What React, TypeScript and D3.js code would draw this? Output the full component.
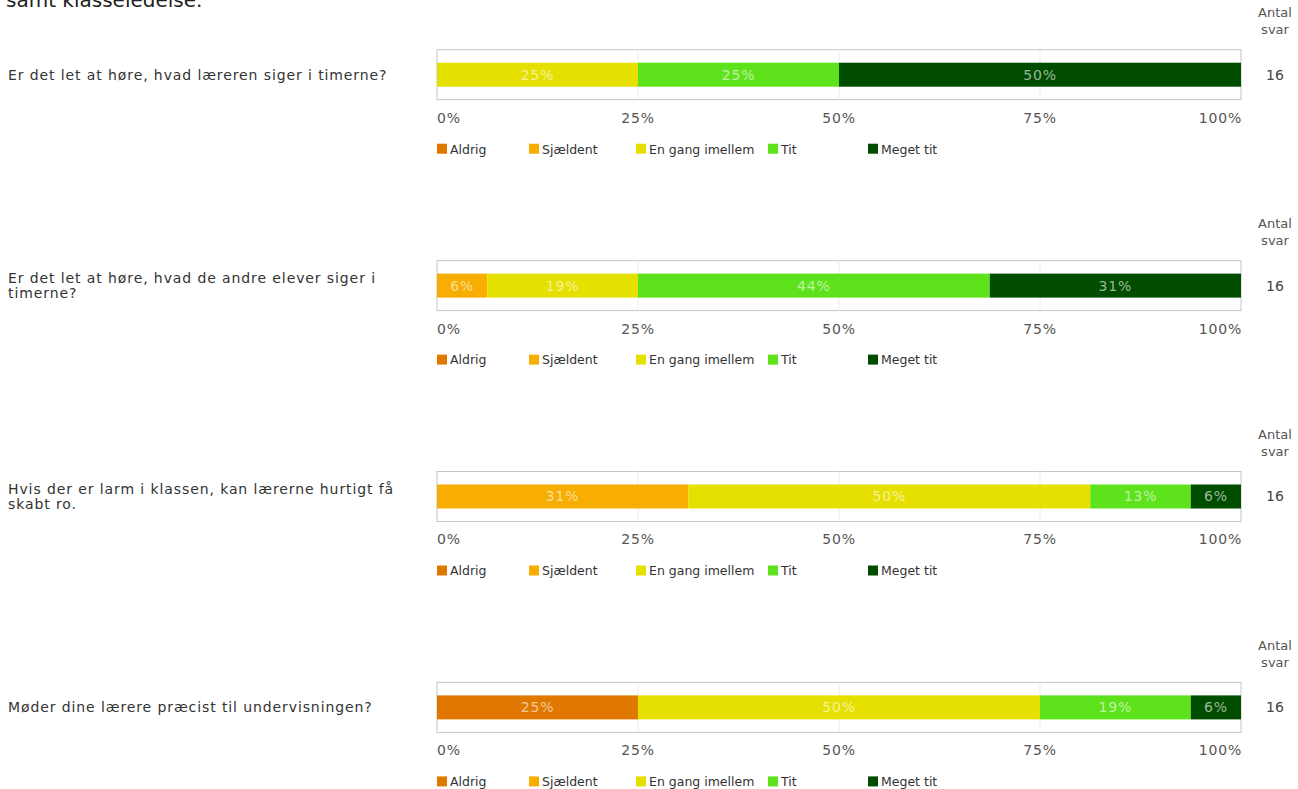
import React from "react";
import * as d3 from "d3";

const categories = ["Aldrig", "Sjældent", "En gang imellem", "Tit", "Meget tit"];
const questions: string[][] = [
  ["Er det let at høre, hvad læreren siger i timerne?"],
  ["Er det let at høre, hvad de andre elever siger i", "timerne?"],
  ["Hvis der er larm i klassen, kan lærerne hurtigt få", "skabt ro."],
  ["Møder dine lærere præcist til undervisningen?"],
];
const aldrig = [0, 0, 0, 25];
const sjaeldent = [0, 6.25, 31.25, 0];
const enGangImellem = [25, 18.75, 50, 50];
const tit = [25, 43.75, 12.5, 18.75];
const megetTit = [50, 31.25, 6.25, 6.25];
const antalSvar = [16, 16, 16, 16];
const tickValues = [0, 25, 50, 75, 100];
const colors = ["#e07800", "#f7ae00", "#e6e000", "#5ee21c", "#004d00"];

const W = 1298;
const H = 789;
const FONT = "'DejaVu Sans', Verdana, sans-serif";
const FS = 13;

export default function App() {
  const x = d3.scaleLinear().domain([0, 100]).range([437, 1241]);
  const rows = questions.map((q, i) => ({
    i,
    Aldrig: aldrig[i],
    "Sjældent": sjaeldent[i],
    "En gang imellem": enGangImellem[i],
    Tit: tit[i],
    "Meget tit": megetTit[i],
  }));
  const stack = d3.stack<any>().keys(categories)(rows);
  const color = d3.scaleOrdinal<string, string>().domain(categories).range(colors);
  const panelY = d3.scaleLinear().domain([0, 1]).range([62.7, 273.6]);
  const barH = 24;
  const pad = 13;
  const legendX = [437, 529, 636, 768, 868];

  return (
    <svg width={W} height={H} style={{ position: "absolute", left: 0, top: 0, background: "#fff" }}
      fontFamily={FONT}>
      <text x={6} y={7} fontSize={20} fill="#222">samt klasseledelse.</text>
      {questions.map((q, i) => {
        const top = panelY(i);
        const cy = top + barH / 2;
        return (
          <g key={i}>
            {q.map((line, j) => (
              <text key={j} x={8} y={cy + (j - (q.length - 1) / 2) * 15} dy="0.35em" fontSize={14}
                letterSpacing={0.9} fill="#333">
                {line}
              </text>
            ))}
            <text x={1275} y={top - 50} dy="0.35em" fontSize={FS} fill="#555" textAnchor="middle">Antal</text>
            <text x={1275} y={top - 33} dy="0.35em" fontSize={FS} fill="#555" textAnchor="middle">svar</text>
            <text x={1275} y={cy} dy="0.35em" fontSize={14} fill="#444" textAnchor="middle">{antalSvar[i]}</text>
            <rect x={x(0)} y={top - pad} width={x(100) - x(0)} height={barH + 2 * pad}
              fill="#fff" stroke="#c4c4d0" strokeWidth={1} />
            {tickValues.slice(1, -1).map((t) => (
              <line key={t} x1={x(t)} x2={x(t)} y1={top - pad} y2={top + barH + pad} stroke="#ececec" />
            ))}
            {stack.map((s) => {
              const d = s[i];
              const w = x(d[1]) - x(d[0]);
              if (w <= 0) return null;
              return (
                <g key={s.key}>
                  <rect x={x(d[0])} y={top} width={w} height={barH} fill={color(s.key)} />
                  <text x={(x(d[0]) + x(d[1])) / 2} y={top + barH / 2} dy="0.35em" textAnchor="middle"
                    fontSize={14} letterSpacing={0.8} fill="#fff" fillOpacity={0.6}>
                    {Math.round(d[1] - d[0])}%
                  </text>
                </g>
              );
            })}
            {tickValues.map((t, k) => (
              <text key={t} x={k === tickValues.length - 1 ? x(t) + 1 : x(t)} y={top + 55} dy="0.35em" fontSize={14}
                letterSpacing={0.8} fill="#555"
                textAnchor={k === 0 ? "start" : k === tickValues.length - 1 ? "end" : "middle"}>
                {t}%
              </text>
            ))}
            {categories.map((c, k) => (
              <g key={c}>
                <rect x={legendX[k]} y={top + 81} width={10} height={10} fill={color(c)} />
                <text x={legendX[k] + 13} y={top + 86.5} dy="0.35em" fontSize={12.5} fill="#333">{c}</text>
              </g>
            ))}
          </g>
        );
      })}
    </svg>
  );
}
